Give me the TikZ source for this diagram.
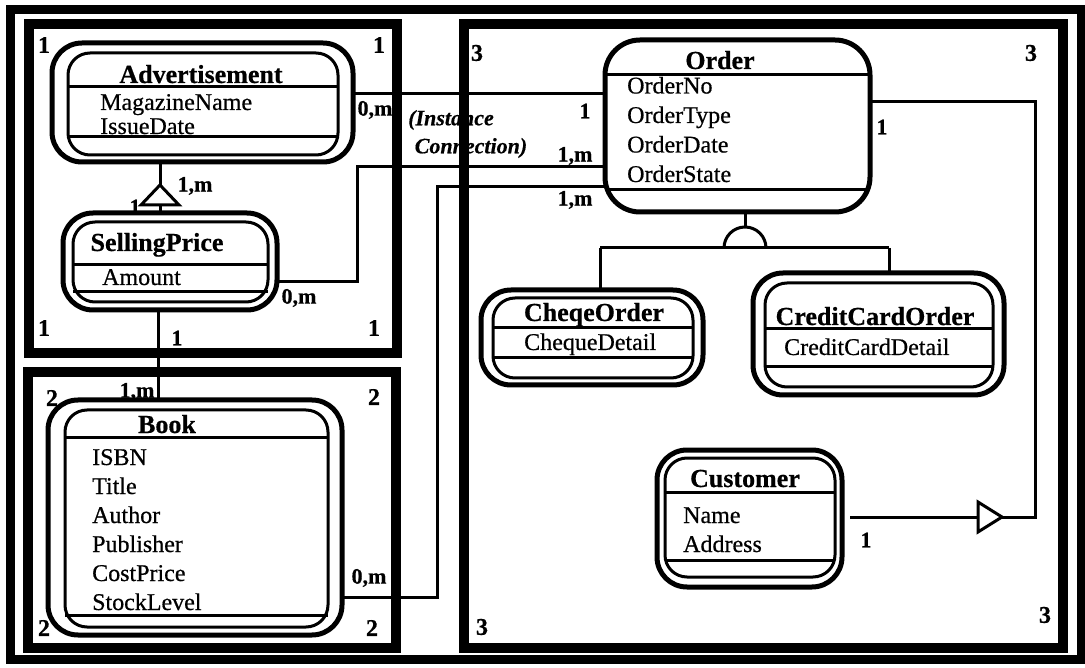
\documentclass[tikz,border=0pt]{standalone}
\usepackage{fontspec}
\setmainfont{Liberation Serif}[UprightFeatures={FakeBold=0.6}, BoldFeatures={FakeBold=0.6}, BoldItalicFeatures={FakeBold=0.4}]
\tikzset{
  subject/.style={line width=10pt},
  frame/.style={line width=9pt},
  objout/.style={draw, line width=5pt, rounded corners=30pt, inner sep=0pt, outer sep=0pt},
  objin/.style={line width=3pt, rounded corners=22pt},
  sepline/.style={line width=3pt},
  conn/.style={line width=3pt},
  cname/.style={font=\bfseries\fontsize{26}{26}\selectfont, anchor=base},
  attr/.style={font=\fontsize{24}{24}\selectfont, anchor=base west, inner sep=0pt},
  card/.style={font=\bfseries\fontsize{22}{22}\selectfont, inner sep=0pt},
  num/.style={font=\bfseries\fontsize{24}{24}\selectfont, inner sep=0pt},
}
\begin{document}
\begin{tikzpicture}[x=1pt,y=-1pt]
  \fill[white] (0,0) rectangle (1085,668);
  \useasboundingbox (0,0) rectangle (1085,668);
  % subjects
  \draw[frame] (10,10) rectangle (1081,659);
  \draw[subject] (29,24) rectangle (397,353);
  \draw[subject] (27.5,372) rectangle (396,648);
  \draw[subject] (464,24) rectangle (1063,648);
  \foreach \x/\y [count=\i] in {44/45,379/45,44/328,374/328}
    \node[num] (one\i) at (\x,\y) {1};
  \foreach \x/\y [count=\i] in {52/398,374/397,44/628,372/628}
    \node[num] (two\i) at (\x,\y) {2};
  \foreach \x/\y [count=\i] in {477/53,1031/53,482/627,1045/615}
    \node[num] (three\i) at (\x,\y) {3};
  % Advertisement
  \node[objout, minimum width=301pt, minimum height=119pt] (adv) at (202.5,102.5) {};
  \draw[objin] (68,53) rectangle (338,155);
  \draw[sepline] (68,87) -- (338,87);
  \draw[sepline] (68,137) -- (338,137);
  \node[cname] (advT) at (201,83) {Advertisement};
  \node[attr] (advA1) at (100,110) {MagazineName};
  \node[attr] (advA2) at (100,134) {IssueDate};
  % SellingPrice
  \node[objout, minimum width=214pt, minimum height=97pt] (sell) at (170,261.5) {};
  \draw[objin] (73,222) rectangle (268,302);
  \draw[sepline] (73,265) -- (268,265);
  \draw[sepline] (73,292) -- (268,292);
  \node[cname] (sellT) at (157,251) {SellingPrice};
  \node[attr] (sellA1) at (102,285) {Amount};
  % Book
  \node[objout, minimum width=294pt, minimum height=235pt] (book) at (195,517.5) {};
  \draw[objin] (65,410) rectangle (328,627);
  \draw[sepline] (65,437) -- (328,437);
  \draw[sepline] (65,615) -- (328,615);
  \node[cname] (bookT) at (167,433) {Book};
  \foreach \t [count=\i] in {ISBN,Title,Author,Publisher,CostPrice,StockLevel}
    \node[attr] (bookA\i) at (92,{436+29*\i}) {\t};
  % Order
  \node[objout, rounded corners=35pt, minimum width=265pt, minimum height=172pt] (order) at (737.5,126) {};
  \draw[sepline] (605,75) -- (870,75);
  \draw[sepline] (605,190) -- (870,190);
  \node[cname] (orderT) at (720,69) {Order};
  \foreach \t [count=\i] in {OrderNo,OrderType,OrderDate,OrderState}
    \node[attr] (orderA\i) at (627,{64+29.5*\i}) {\t};
  % CheqeOrder
  \node[objout, minimum width=222pt, minimum height=95pt] (cheque) at (592,337.5) {};
  \draw[objin] (493,298) rectangle (693,378);
  \draw[sepline] (493,328) -- (693,328);
  \draw[sepline] (493,358) -- (693,358);
  \node[cname] (chequeT) at (594,321) {CheqeOrder};
  \node[attr] (chequeA1) at (524,350) {ChequeDetail};
  % CreditCardOrder
  \node[objout, minimum width=251pt, minimum height=122pt] (credit) at (878.5,334) {};
  \draw[objin] (765,283) rectangle (993,387);
  \draw[sepline] (765,329) -- (993,329);
  \draw[sepline] (765,367) -- (993,367);
  \node[cname] (creditT) at (875,325) {CreditCardOrder};
  \node[attr] (creditA1) at (784,355) {CreditCardDetail};
  % Customer
  \node[objout, minimum width=185pt, minimum height=137pt] (cust) at (749.5,518.5) {};
  \draw[objin] (665,458) rectangle (835,577);
  \draw[sepline] (665,492) -- (835,492);
  \draw[sepline] (665,560) -- (835,560);
  \node[cname] (custT) at (745,487) {Customer};
  \node[attr] (custA1) at (683,523) {Name};
  \node[attr] (custA2) at (683,552) {Address};
  % whole-part Advertisement / SellingPrice
  \coordinate (wpTop) at (160,185);
  \coordinate (wpBase) at (160,205);
  \draw[conn] (adv.south -| wpTop) -- (wpTop);
  \draw[conn] (wpTop) -- (141,205) -- (179,205) -- cycle;
  \draw[conn] (wpBase) -- (sell.north -| wpBase);
  \node[card] (c1) at (195,186) {1,m};
  \node[card] (c2) at (135,207) {1};
  % gen-spec Order
  \coordinate (gsTop) at (745,227);
  \coordinate (gsL) at (600,248);
  \coordinate (gsR) at (889,248);
  \draw[conn] (order.south -| gsTop) -- (gsTop);
  \draw[conn] (724,248) arc[start angle=180, end angle=360, radius=21];
  \draw[conn] (gsL) -- (gsR);
  \draw[conn] (gsL) -- (cheque.north -| gsL);
  \draw[conn] (gsR) -- (credit.north -| gsR);
  % instance connections
  \draw[conn] (adv.east |- 0,94) -- (order.west |- 0,94);
  \node[card] (c3) at (375,110) {0,m};
  \node[card] (c4) at (585,111) {1};
  \node[font=\bfseries\itshape\fontsize{22}{22}\selectfont] (inst1) at (451,120) {(Instance};
  \node[font=\bfseries\itshape\fontsize{22}{22}\selectfont] (inst2) at (471,148) {Connection)};
  \draw[conn] (sell.east |- 0,282) -| (357,167) -- (order.west |- 0,167);
  \node[card] (c5) at (299,298) {0,m};
  \node[card] (c6) at (575,156) {1,m};
  \draw[conn] (book.east |- 0,597) -| (437,187) -- (order.west |- 0,187);
  \node[card] (c7) at (369,578) {0,m};
  \node[card] (c8) at (575,200) {1,m};
  \draw[conn] (sell.south -| 158,0) -- (book.north -| 158,0);
  \node[card] (c9) at (177,338) {1};
  \node[card] (c10) at (137,392) {1,m};
  % Order / Customer
  \coordinate (tipC) at (1002,517);
  \coordinate (baseC) at (978,517);
  \coordinate (custR) at ([xshift=8pt]cust.east);
  \draw[conn] (order.east |- 0,102) -| (1035,517) -- (tipC);
  \draw[conn] (978,502) -- (tipC) -- (978,532) -- cycle;
  \draw[conn] (custR |- baseC) -- (baseC);
  \node[card] (c11) at (882,127) {1};
  \node[card] (c12) at (866,540) {1};
\end{tikzpicture}
\end{document}
